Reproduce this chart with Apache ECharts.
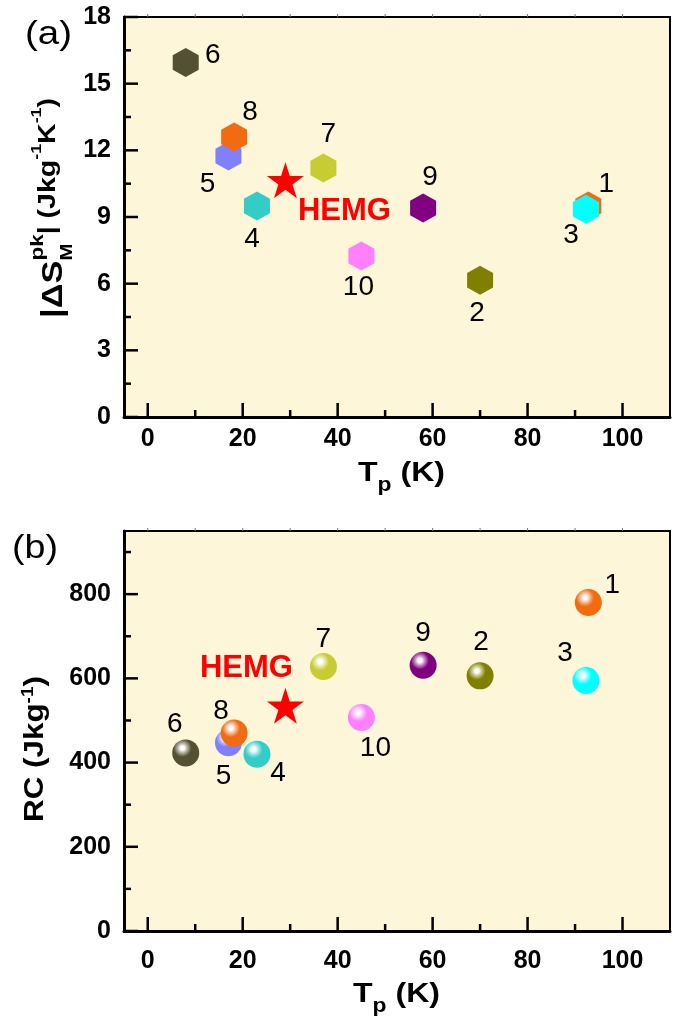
<!DOCTYPE html>
<html>
<head>
<meta charset="utf-8">
<script src="https://cdn.jsdelivr.net/npm/echarts@6/dist/echarts.min.js"></script>
<style>
  html, body { margin: 0; padding: 0; background: #fff; }
  #chart { width: 680px; height: 1020px; }
</style>
</head>
<body>
<div id="chart"></div>
<script>
// samples 1..10
const sampleNames = ['1', '2', '3', '4', '5', '6', '7', '8', '9', '10'];
const tpValues = [92.8, 70, 92.3, 23, 17, 8, 37, 18.2, 58, 45];
const dsValues = [9.5, 6.15, 9.35, 9.5, 11.75, 15.95, 11.2, 12.6, 9.4, 7.25];
const rcValues = [780, 606, 595, 420, 447, 423, 628, 470, 631, 507];

const hemgName = 'HEMG';
const hemgTp = 29;
const hemgDs = 10.65;
const hemgRc = 535;

// tick labels / tick marks
const xTicks = [0, 20, 40, 60, 80, 100];
const xMinorTicks = [10, 30, 50, 70, 90];
const topTicks = [0, 10, 20, 30, 40, 50, 60, 70, 80, 90, 100];
const dsTicks = [0, 3, 6, 9, 12, 15, 18];
const dsMinorTicks = [1.5, 4.5, 7.5, 10.5, 13.5, 16.5];
const rcTicks = [0, 200, 400, 600, 800];
const rcMinorTicks = [100, 300, 500, 700, 900];

const sampleColors = ['#f26b10', '#808000', '#00ffff', '#33ccc6', '#8080ff',
                      '#545033', '#c8cc33', '#f26b10', '#800080', '#ff80ff'];
const labelOffsetsA = [[18, -22], [-3, 33], [-15, 26], [-5, 33], [-21, 28],
                       [27, -7], [5, -34], [16, -25], [7, -31], [-3, 31]];
const labelOffsetsB = [[24, -17], [1, -34], [-21, -27], [21, 19], [-5, 33],
                       [-11, -29], [0, -27], [-13, -22], [0, -32], [14, 31]];

const FONT = '"Liberation Sans", Arial, Helvetica, sans-serif';
const BG = '#fdf6d9';

const hexPath = 'path://M0,-1L0.866,-0.5L0.866,0.5L0,1L-0.866,0.5L-0.866,-0.5Z';
function starPath() {
  let d = '';
  for (let i = 0; i < 10; i++) {
    const a = -Math.PI / 2 + i * Math.PI / 5;
    const r = i % 2 ? 0.382 : 1;
    d += (i ? 'L' : 'M') + (r * Math.cos(a)).toFixed(4) + ',' + (r * Math.sin(a)).toFixed(4);
  }
  return 'path://' + d + 'Z';
}

function mix(hex, t) {
  const n = parseInt(hex.slice(1), 16);
  const c = [n >> 16, (n >> 8) & 255, n & 255].map(v => Math.round(v + (255 - v) * t));
  return 'rgb(' + c.join(',') + ')';
}
function sphere(c) {
  return {
    type: 'radial', x: 0.38, y: 0.32, r: 0.6,
    colorStops: [
      {offset: 0, color: '#ffffff'},
      {offset: 0.12, color: '#ffffff'},
      {offset: 0.3, color: mix(c, 0.55)},
      {offset: 0.55, color: c},
      {offset: 1, color: c}
    ]
  };
}

const ctx = document.createElement('canvas').getContext('2d');
function textWidth(t, size, weight) {
  ctx.font = weight + ' ' + size + 'px ' + FONT;
  return ctx.measureText(t).width;
}
// a run of text pieces (for sub/superscripts); y is the main baseline
function textRun(pieces, x, y, opts) {
  const children = [];
  let adv = 0;
  pieces.forEach(p => {
    const w = p.w || 'bold';
    children.push({
      type: 'text', x: adv, y: (p.dy || 0) - 0.35 * p.s,
      style: {text: p.t, fontSize: p.s, fontWeight: w, fontFamily: FONT,
              fill: p.c || '#000', align: 'left', verticalAlign: 'middle'}
    });
    if (!p.stack) adv += textWidth(p.t, p.s, w);
  });
  return {type: 'group', x: x, y: y, rotation: opts.rotation || 0,
          scaleX: opts.length ? opts.length / adv : 1, children: children};
}

const panels = [
  {top: 17, yMax: 18, yStep: 3, yLabels: dsTicks, yMinor: dsMinorTicks, xMargin: 10},
  {top: 531, yMax: 950, yStep: 50, yLabels: rcTicks, yMinor: rcMinorTicks, xMargin: 18}
];
const X_MIN = -5, X_MAX = 110;

function tickSeries(g, values, side, len, color, width, yMax) {
  return {
    type: 'custom', xAxisIndex: g, yAxisIndex: g, silent: true, clip: false, z: 4,
    data: values.map(v => [v]),
    renderItem(params, api) {
      const v = api.value(0);
      let p, q;
      if (side === 'bottom') { p = api.coord([v, 0]); q = [p[0], p[1] - len]; }
      else if (side === 'top') { p = api.coord([v, yMax]); q = [p[0], p[1] - len]; }
      else { p = api.coord([X_MIN, v]); q = [p[0] + len, p[1]]; }
      return {type: 'line', shape: {x1: p[0], y1: p[1], x2: q[0], y2: q[1]},
              style: {stroke: color, lineWidth: width}};
    }
  };
}

const grid = [], xAxis = [], yAxis = [], series = [];
panels.forEach((pn, g) => {
  grid.push({left: 124, top: pn.top, width: 546, height: 400, show: true,
             backgroundColor: BG, borderColor: '#000', borderWidth: 2});
  xAxis.push({
    gridIndex: g, type: 'value', min: X_MIN, max: X_MAX, interval: 5,
    axisLine: {onZero: false, lineStyle: {color: '#000', width: 3}},
    axisTick: {show: false}, splitLine: {show: false},
    axisLabel: {margin: pn.xMargin, fontSize: 25, fontWeight: 'bold', color: '#000', fontFamily: FONT,
                formatter: v => xTicks.includes(v) ? String(v) : ''}
  });
  yAxis.push({
    gridIndex: g, type: 'value', min: 0, max: pn.yMax, interval: pn.yStep,
    axisLine: {onZero: false, lineStyle: {color: '#000', width: 3}},
    axisTick: {show: false}, splitLine: {show: false},
    axisLabel: {margin: 13, fontSize: 25, fontWeight: 'bold', color: '#000', fontFamily: FONT,
                formatter: v => pn.yLabels.includes(v) ? String(v) : ''}
  });
  series.push(tickSeries(g, xTicks, 'bottom', 14, '#000', 2.5, pn.yMax));
  series.push(tickSeries(g, xMinorTicks, 'bottom', 7, '#000', 2.5, pn.yMax));
  series.push(tickSeries(g, topTicks, 'top', 3, '#777', 1, pn.yMax));
  series.push(tickSeries(g, pn.yLabels, 'left', 14, '#000', 2.5, pn.yMax));
  series.push(tickSeries(g, pn.yMinor, 'left', 7, '#000', 2.5, pn.yMax));
});

const numLabel = {show: true, position: 'inside', formatter: '{b}', fontSize: 28,
                  color: '#000', opacity: 1, fontFamily: FONT};

// (a) hexagons
series.push({
  type: 'scatter', xAxisIndex: 0, yAxisIndex: 0, z: 3,
  symbol: hexPath, symbolSize: [26, 29],
  itemStyle: {opacity: 1},
  label: numLabel,
  data: sampleNames.map((n, i) => ({
    name: n, value: [tpValues[i], dsValues[i]],
    itemStyle: {color: sampleColors[i], opacity: 1},
    label: {offset: labelOffsetsA[i]}
  }))
});
// (b) spheres
series.push({
  type: 'scatter', xAxisIndex: 1, yAxisIndex: 1, z: 3,
  symbol: 'circle', symbolSize: 27,
  itemStyle: {opacity: 1},
  label: numLabel,
  data: sampleNames.map((n, i) => ({
    name: n, value: [tpValues[i], rcValues[i]],
    itemStyle: {color: sphere(sampleColors[i]), opacity: 1},
    label: {offset: labelOffsetsB[i]}
  }))
});
// HEMG stars
[[0, hemgDs, [59, 31]], [1, hemgRc, [-39, -37]]].forEach(([g, y, off]) => {
  series.push({
    type: 'scatter', xAxisIndex: g, yAxisIndex: g, z: 3,
    symbol: starPath(), symbolSize: [37, 36],
    itemStyle: {color: '#ff0000', opacity: 1},
    label: {show: true, position: 'inside', offset: off, formatter: '{b}', fontSize: 31,
            fontWeight: 'bold', color: '#ff0000', opacity: 1, fontFamily: FONT},
    data: [{name: hemgName, value: [hemgTp, y]}]
  });
});

const graphic = [
  textRun([{t: '(a)', s: 34, w: 'normal'}], 25, 47, {length: 47}),
  textRun([{t: '(b)', s: 34, w: 'normal'}], 12, 561, {length: 46}),
  textRun([{t: 'T', s: 28}, {t: 'p', s: 20, dy: 9}, {t: ' (K)', s: 28}], 358, 483, {length: 87}),
  textRun([{t: 'T', s: 28}, {t: 'p', s: 20, dy: 9}, {t: ' (K)', s: 28}], 353, 1004, {length: 87}),
  textRun([
    {t: '|\u0394S', s: 29, dy: 7},
    {t: 'M', s: 17, dy: 16, stack: true},
    {t: 'pk', s: 19, dy: -13},
    {t: '| (Jkg', s: 24},
    {t: '-1', s: 15, dy: -15},
    {t: 'K', s: 24},
    {t: '-1', s: 15, dy: -15},
    {t: ')', s: 24}
  ], 57, 318, {rotation: Math.PI / 2, length: 220}),
  textRun([
    {t: 'RC (Jkg', s: 28},
    {t: '-1', s: 17, dy: -11},
    {t: ')', s: 28}
  ], 45, 822, {rotation: Math.PI / 2, length: 146})
];

const chart = echarts.init(document.getElementById('chart'), null, {renderer: 'canvas'});
chart.setOption({
  animation: false,
  backgroundColor: '#fff',
  grid, xAxis, yAxis, series, graphic
});
</script>
</body>
</html>
